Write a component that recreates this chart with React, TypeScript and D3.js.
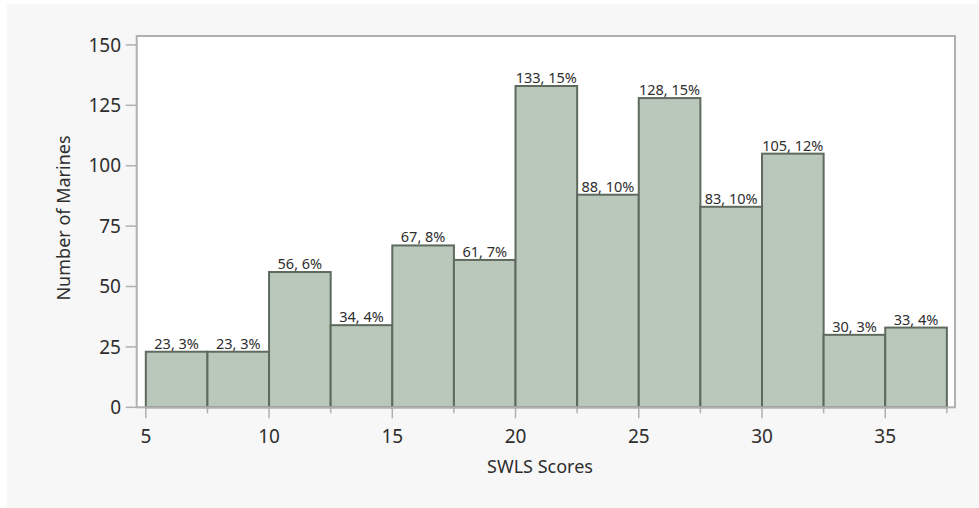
import React, { useEffect, useRef } from "react";
import * as d3 from "d3";

// histogram bins (start of each 2.5-wide bin), counts and percentages
const binStarts = [5, 7.5, 10, 12.5, 15, 17.5, 20, 22.5, 25, 27.5, 30, 32.5, 35];
const counts = [23, 23, 56, 34, 67, 61, 133, 88, 128, 83, 105, 30, 33];
const percents = [3, 3, 6, 4, 8, 7, 15, 10, 15, 10, 12, 3, 4];
const binWidth = 2.5;

const xMajorTicks = [5, 10, 15, 20, 25, 30, 35];
const xMinorTicks = [7.5, 12.5, 17.5, 22.5, 27.5, 32.5, 37.5];
const yTicks = [0, 25, 50, 75, 100, 125, 150];

const xTitle = "SWLS Scores";
const yTitle = "Number of Marines";

const App = () => {
  const svgRef = useRef<SVGSVGElement>(null);

  useEffect(() => {
    const svg = d3.select(svgRef.current);
    svg.selectAll("*").remove();

    const width = 979;
    const height = 508;
    const font = "'Noto Sans', 'Open Sans', sans-serif";
    const textColor = "#2e2e2e";
    const frameColor = "#b0b0b0";

    const x = d3.scaleLinear().domain([4.63, 37.83]).range([136.7, 955]);
    const y = d3.scaleLinear().domain([0, 153.7]).range([407.3, 36]);

    // page background
    svg.append("rect").attr("width", width).attr("height", height).attr("fill", "#fff");
    svg
      .append("rect")
      .attr("x", 7)
      .attr("y", 4)
      .attr("width", width - 7)
      .attr("height", height - 4)
      .attr("fill", "#f7f7f7");

    const [x0, x1] = x.range();
    const [yb, yt] = y.range();

    // plot area
    svg
      .append("rect")
      .attr("x", x0)
      .attr("y", yt)
      .attr("width", x1 - x0)
      .attr("height", yb - yt)
      .attr("fill", "#fff");

    const data = binStarts.map((s, i) => ({ s, c: counts[i], p: percents[i] }));

    svg
      .append("g")
      .selectAll("rect")
      .data(data)
      .join("rect")
      .attr("x", (d) => x(d.s))
      .attr("y", (d) => y(d.c))
      .attr("width", (d) => x(d.s + binWidth) - x(d.s))
      .attr("height", (d) => y(0) - y(d.c))
      .attr("fill", "#b9c8ba")
      .attr("stroke", "#5e6a5d")
      .attr("stroke-width", 2);

    svg
      .append("g")
      .selectAll("text")
      .data(data)
      .join("text")
      .attr("x", (d) => x(d.s + binWidth / 2))
      .attr("y", (d) => y(d.c) - 3)
      .attr("text-anchor", "middle")
      .attr("font-family", font)
      .attr("font-size", 14.5)
      .attr("fill", textColor)
      .text((d) => `${d.c}, ${d.p}%`);

    // frame
    svg
      .append("rect")
      .attr("x", x0)
      .attr("y", yt)
      .attr("width", x1 - x0)
      .attr("height", yb - yt)
      .attr("fill", "none")
      .attr("stroke", frameColor)
      .attr("stroke-width", 2);

    // x axis ticks
    const gx = svg.append("g");
    gx.selectAll("line.major")
      .data(xMajorTicks)
      .join("line")
      .attr("class", "major")
      .attr("x1", (d) => x(d))
      .attr("x2", (d) => x(d))
      .attr("y1", yb)
      .attr("y2", yb + 11)
      .attr("stroke", frameColor)
      .attr("stroke-width", 1.5);
    gx.selectAll("line.minor")
      .data(xMinorTicks)
      .join("line")
      .attr("class", "minor")
      .attr("x1", (d) => x(d))
      .attr("x2", (d) => x(d))
      .attr("y1", yb)
      .attr("y2", yb + 6)
      .attr("stroke", frameColor)
      .attr("stroke-width", 1.5);
    gx.selectAll("text")
      .data(xMajorTicks)
      .join("text")
      .attr("x", (d) => x(d))
      .attr("y", 443)
      .attr("text-anchor", "middle")
      .attr("font-family", font)
      .attr("font-size", 19)
      .attr("fill", textColor)
      .text((d) => d);

    // y axis ticks
    const gy = svg.append("g");
    gy.selectAll("line")
      .data(yTicks)
      .join("line")
      .attr("x1", x0 - 11)
      .attr("x2", x0)
      .attr("y1", (d) => y(d))
      .attr("y2", (d) => y(d))
      .attr("stroke", frameColor)
      .attr("stroke-width", 1.5);
    gy.selectAll("text")
      .data(yTicks)
      .join("text")
      .attr("x", 121)
      .attr("y", (d) => y(d))
      .attr("dy", "0.35em")
      .attr("text-anchor", "end")
      .attr("font-family", font)
      .attr("font-size", 19)
      .attr("fill", textColor)
      .text((d) => d);

    // titles
    svg
      .append("text")
      .attr("x", 540)
      .attr("y", 473)
      .attr("text-anchor", "middle")
      .attr("font-family", font)
      .attr("font-size", 18)
      .attr("fill", textColor)
      .text(xTitle);
    svg
      .append("text")
      .attr("transform", "translate(70,218) rotate(-90)")
      .attr("text-anchor", "middle")
      .attr("font-family", font)
      .attr("font-size", 18)
      .attr("fill", textColor)
      .text(yTitle);
  }, []);

  return (
    <svg
      ref={svgRef}
      width={979}
      height={508}
      style={{ position: "absolute", left: 0, top: 0 }}
    ></svg>
  );
};

export default App;
